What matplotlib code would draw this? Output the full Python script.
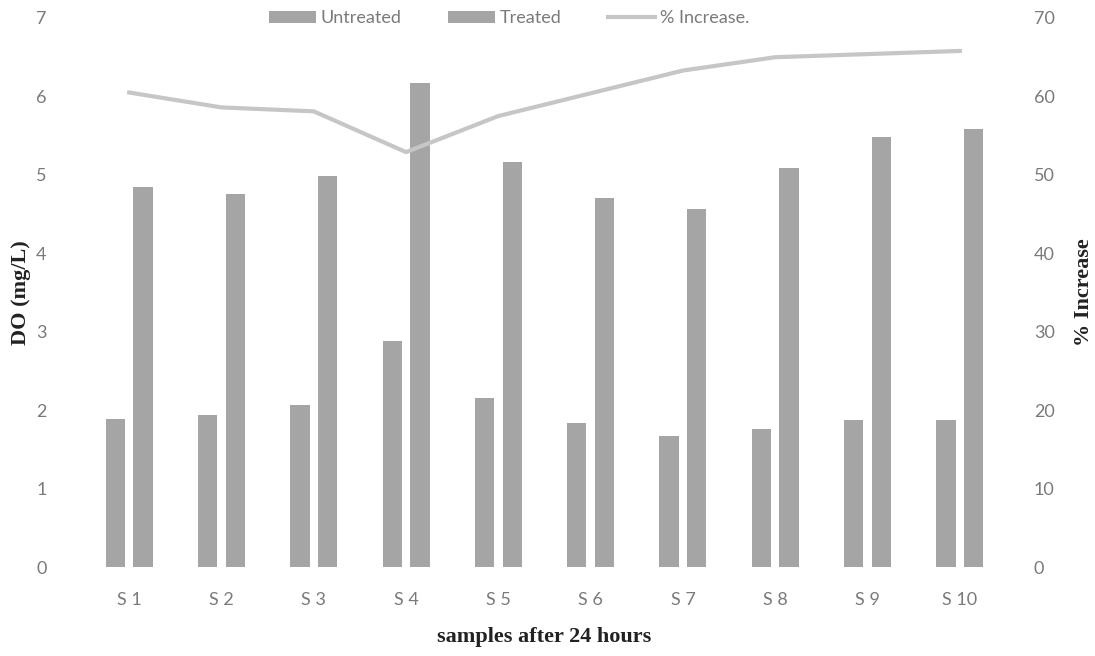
import matplotlib
matplotlib.use("Agg")
import matplotlib.pyplot as plt
import numpy as np

samples = ["S 1", "S 2", "S 3", "S 4", "S 5", "S 6", "S 7", "S 8", "S 9", "S 10"]
untreated = [1.89, 1.94, 2.07, 2.88, 2.16, 1.84, 1.67, 1.76, 1.87, 1.88]
treated = [4.85, 4.76, 4.99, 6.17, 5.16, 4.71, 4.57, 5.09, 5.48, 5.58]
pct_increase = [60.5, 58.6, 58.1, 52.9, 57.5, 60.4, 63.3, 65.0, 65.4, 65.8]

left_ticks = [0, 1, 2, 3, 4, 5, 6, 7]
right_ticks = [0, 10, 20, 30, 40, 50, 60, 70]

tick_color = "#7a7a7a"
bar_color = "#a5a5a5"
line_color = "#c6c6c6"

fig = plt.figure(figsize=(10.95, 6.56), dpi=100)
ax = fig.add_axes([83 / 1095, 89 / 656, 923 / 1095, 549 / 656])
ax2 = ax.twinx()

x = np.arange(len(samples))
w = 0.21
b1 = ax.bar(x - 0.15, untreated, width=w, color=bar_color, label="Untreated")
b2 = ax.bar(x + 0.15, treated, width=w, color=bar_color, label="Treated")
ln, = ax2.plot(x, pct_increase, color=line_color, lw=3, label="% Increase.")

ax.set_xlim(-0.5, len(samples) - 0.5)
ax.set_ylim(0, 7)
ax2.set_ylim(0, 70)
ax.set_yticks(left_ticks)
ax2.set_yticks(right_ticks)
ax.set_xticks(x)
ax.set_xticklabels(samples)

for a in (ax, ax2):
    for s in a.spines.values():
        s.set_visible(False)

ax.tick_params(axis="y", length=0, pad=30, labelcolor=tick_color, labelsize=13)
ax2.tick_params(axis="y", length=0, pad=20, labelcolor=tick_color, labelsize=13)
ax.tick_params(axis="x", length=0, pad=18, labelcolor=tick_color, labelsize=13)
for lab in ax.get_yticklabels() + ax2.get_yticklabels() + ax.get_xticklabels():
    lab.set_fontfamily("Lato")
for lab in ax.get_yticklabels():
    lab.set_horizontalalignment("center")

label_font = dict(family="Liberation Serif", weight="bold", size=16, color="#222222")
ax.set_ylabel("DO (mg/L)", labelpad=4, **label_font)
ax2.set_ylabel("% Increase", labelpad=14, **label_font)
ax.set_xlabel("samples after 24 hours", labelpad=14, **label_font)

leg = fig.legend(handles=[b1, b2, ln], loc="center", bbox_to_anchor=(0.465, 0.972),
                 ncol=3, frameon=False, handlelength=2.6, handleheight=0.6,
                 columnspacing=2.6, handletextpad=0.25,
                 prop=dict(family="Lato", size=13))
for t in leg.get_texts():
    t.set_color(tick_color)

fig.savefig("out.png", dpi=100)
